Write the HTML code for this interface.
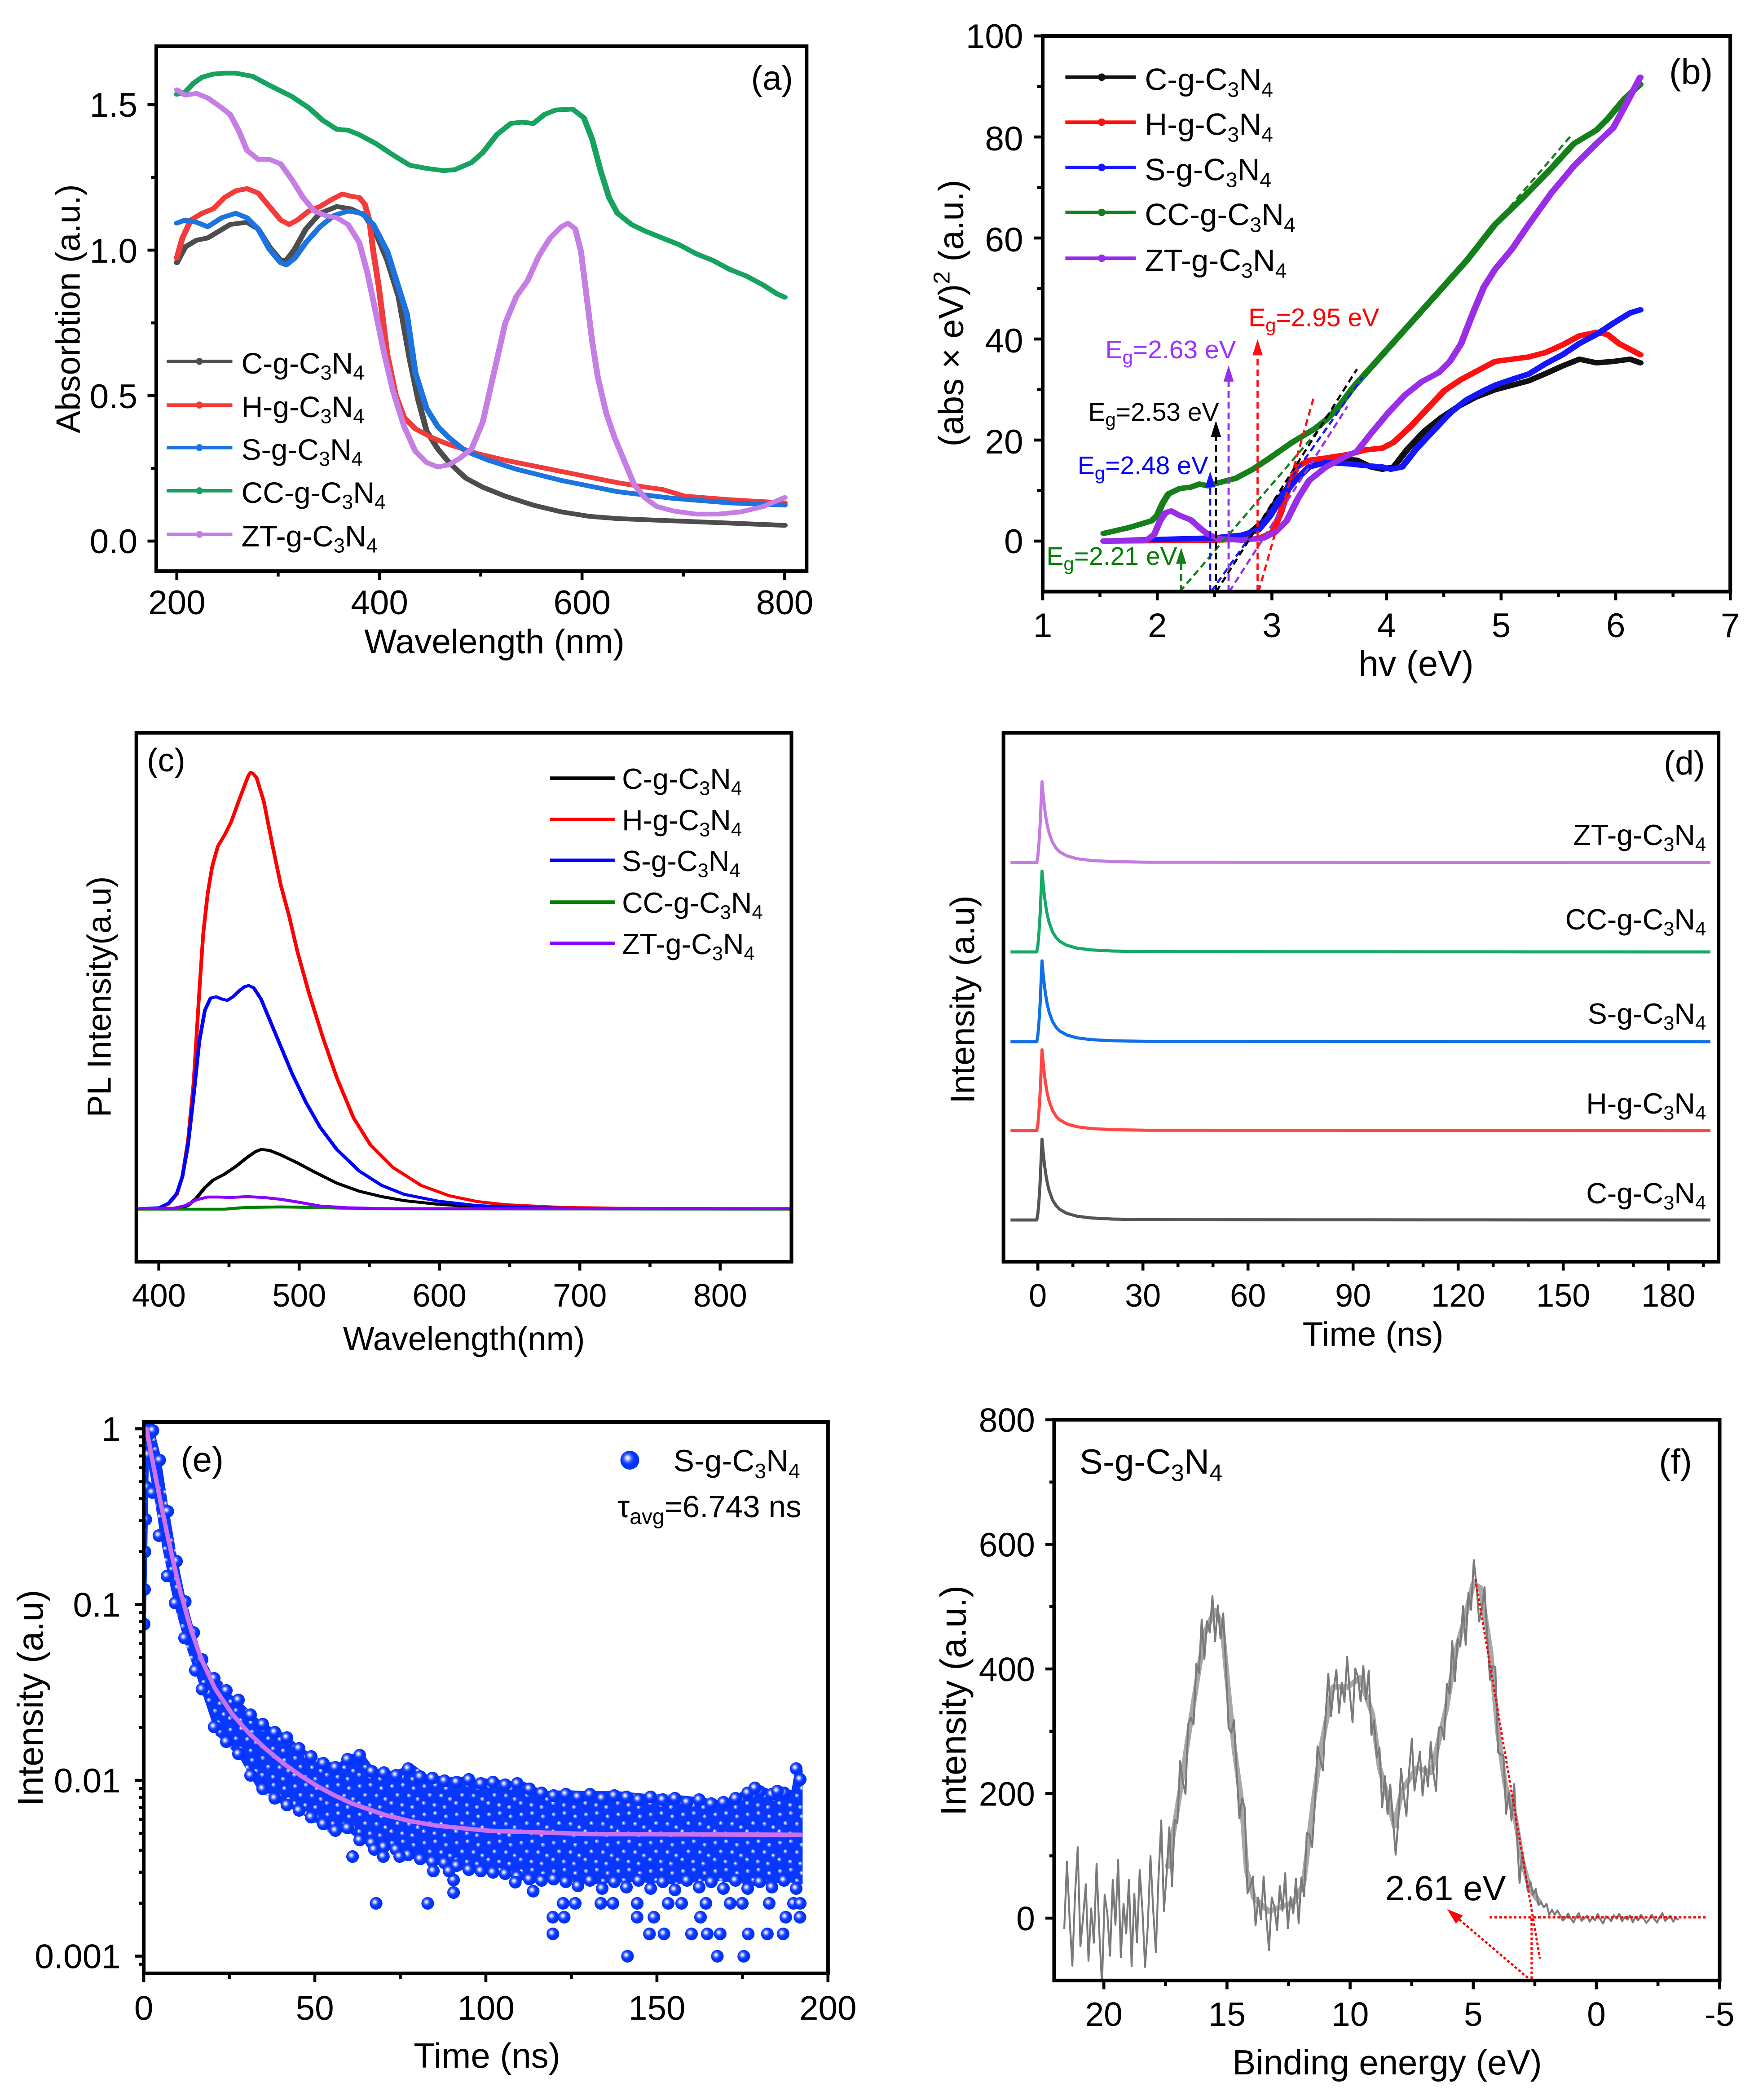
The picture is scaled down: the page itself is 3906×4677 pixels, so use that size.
<!DOCTYPE html>
<html><head><meta charset="utf-8">
<style>
html,body{margin:0;padding:0;background:#fff;}
svg{display:block;}
text{font-family:"Liberation Sans",Arial,sans-serif;fill:#000;}
</style></head><body>
<svg xmlns="http://www.w3.org/2000/svg" width="3906" height="4677" viewBox="0 0 1302 1559">
<defs>
 <radialGradient id="sph" cx="0.42" cy="0.42" r="0.62" fx="0.38" fy="0.38">
  <stop offset="0" stop-color="#ffffff"/>
  <stop offset="0.16" stop-color="#c8ceff"/>
  <stop offset="0.36" stop-color="#3a5cff"/>
  <stop offset="0.55" stop-color="#0536ff"/>
  <stop offset="1" stop-color="#0030f5"/>
 </radialGradient>
 <pattern id="bp" patternUnits="userSpaceOnUse" width="24" height="21">
  <rect width="24" height="21" fill="#0838ff"/>
  <g fill="#7084ff">
   <circle cx="3" cy="3" r="1.5"/><circle cx="11" cy="2" r="1.5"/><circle cx="19" cy="4.5" r="1.5"/>
   <circle cx="7" cy="9.5" r="1.5"/><circle cx="15.5" cy="10" r="1.5"/><circle cx="22" cy="12.5" r="1.5"/>
   <circle cx="2.5" cy="15.5" r="1.5"/><circle cx="10.5" cy="17" r="1.5"/><circle cx="18" cy="18.5" r="1.5"/>
  </g>
  <g fill="#e6eaff">
   <circle cx="2.8" cy="2.8" r="0.7"/><circle cx="10.8" cy="1.8" r="0.7"/><circle cx="18.8" cy="4.3" r="0.7"/>
   <circle cx="6.8" cy="9.3" r="0.7"/><circle cx="15.3" cy="9.8" r="0.7"/><circle cx="21.8" cy="12.3" r="0.7"/>
   <circle cx="2.3" cy="15.3" r="0.7"/><circle cx="10.3" cy="16.8" r="0.7"/><circle cx="17.8" cy="18.3" r="0.7"/>
  </g>
 </pattern>
 <clipPath id="cla"><rect x="116" y="34.3" width="482.75" height="389.7"/></clipPath>
 <clipPath id="clb"><rect x="774" y="26.7" width="510.4" height="412.5"/></clipPath>
 <clipPath id="clc"><rect x="101.25" y="544" width="486.25" height="392.7"/></clipPath>
 <clipPath id="cld"><rect x="744.9" y="544" width="530.8" height="392.7"/></clipPath>
 <clipPath id="cle"><rect x="106.7" y="1055.7" width="507.9" height="409.3"/></clipPath>
 <clipPath id="clf"><rect x="782.5" y="1054" width="494" height="416.3"/></clipPath>
</defs>
<rect x="0" y="0" width="1302" height="1559" fill="#fff"/>

<!-- ===== data (a) ===== -->
<g clip-path="url(#cla)">
<g transform="matrix(0.416667 0 0 0.333333 0 0)" fill="none" stroke-width="10.5" stroke-linejoin="round" stroke-linecap="round">
<path stroke="#4d4d4d" d="M315 585L330 550L350 535L370 530L390 515L410 500L440 495L460 510L480 550L500 580L510 580L525 555L545 510L570 475L600 460L625 465L650 480L670 520L690 580L710 660L730 800L745 890L760 960L780 1000L800 1030L830 1065L860 1085L900 1105L950 1125L1000 1140L1050 1150L1100 1155L1200 1160L1300 1165L1398 1170"/>
<path stroke="#f23c3c" d="M315 575L325 530L340 490L360 475L380 465L400 440L420 425L440 420L460 430L480 460L500 490L515 500L530 490L550 470L570 460L590 445L610 432L625 437L640 440L650 455L658 490L665 560L675 640L690 790L705 880L720 930L740 955L770 975L800 990L850 1010L900 1025L1000 1050L1100 1075L1150 1085L1180 1090L1220 1105L1300 1113L1398 1120"/>
<path stroke="#1d74e0" d="M315 497L330 490L350 495L370 505L395 485L420 475L440 485L460 510L480 555L500 585L510 590L525 575L545 540L570 505L595 480L620 470L645 475L665 500L690 560L710 640L725 700L740 830L760 910L780 950L800 975L830 1005L870 1025L920 1045L1000 1070L1100 1095L1200 1110L1300 1120L1398 1125"/>
<path stroke="#17a260" d="M315 210L330 205L345 185L360 172L380 165L400 163L420 163L450 170L480 190L520 215L550 240L575 268L600 288L620 290L640 300L670 320L700 345L730 368L760 375L790 380L810 378L840 362L860 340L885 300L910 275L930 272L950 275L970 255L990 245L1020 243L1040 262L1055 310L1070 380L1085 440L1100 475L1125 500L1150 515L1180 530L1210 545L1240 565L1270 580L1300 600L1330 615L1360 635L1385 655L1398 662"/>
<path stroke="#c57ee3" d="M315 200L330 212L350 208L370 218L395 240L410 255L425 290L440 335L460 355L480 355L500 365L520 400L540 440L560 470L580 480L600 485L620 500L640 540L655 610L670 700L685 790L700 870L720 950L740 1005L760 1030L780 1040L800 1035L820 1020L840 1000L860 940L880 830L900 720L920 660L940 625L960 570L980 530L1000 505L1012 497L1025 510L1035 560L1045 660L1055 760L1065 840L1080 920L1095 975L1110 1020L1130 1080L1150 1110L1170 1128L1200 1138L1240 1145L1280 1145L1320 1140L1360 1128L1398 1108"/>
</g></g>

<!-- ===== data (b) ===== -->
<g clip-path="url(#clb)">
<g transform="matrix(0.41793 0 0 0.333333 650 0)" fill="none" stroke-width="12" stroke-linejoin="round" stroke-linecap="round">
<path stroke="#111111" d="M405 1205L600 1200L660 1192L690 1160L710 1120L740 1075L770 1040L800 1028L830 1022L855 1025L880 1040L900 1045L920 1040L945 1000L975 960L1005 930L1035 905L1065 885L1100 868L1130 858L1160 848L1190 832L1220 815L1250 800L1280 808L1310 805L1340 800L1358 808"/>
<path stroke="#ff1010" d="M405 1205L600 1203L680 1200L705 1185L720 1140L735 1080L748 1040L770 1025L800 1020L840 1012L870 1002L900 998L920 985L950 950L980 910L1010 870L1040 845L1070 825L1100 805L1130 800L1160 795L1190 785L1220 768L1250 748L1280 740L1300 745L1320 765L1340 778L1358 790"/>
<path stroke="#1515ff" d="M405 1205L600 1198L650 1192L680 1180L700 1150L720 1110L745 1070L770 1040L800 1030L840 1033L870 1037L900 1040L915 1045L935 1040L960 1000L990 960L1020 920L1050 890L1080 870L1100 858L1130 845L1160 833L1190 810L1220 790L1250 765L1280 745L1310 720L1340 697L1358 690"/>
<path stroke="#15801a" d="M405 1188L450 1175L490 1160L500 1148L510 1120L520 1100L540 1088L560 1085L575 1078L590 1082L610 1075L640 1065L670 1045L700 1020L740 985L780 955L800 935L820 910L850 860L900 790L950 720L1000 650L1050 580L1100 500L1150 440L1200 375L1240 320L1280 290L1300 265L1330 220L1358 188"/>
<path stroke="#9a2ee8" d="M405 1205L480 1204L495 1190L505 1160L515 1142L525 1138L540 1148L560 1158L575 1175L590 1190L610 1200L650 1203L690 1198L710 1185L730 1160L750 1110L770 1070L800 1040L830 1020L855 1005L880 965L910 920L940 880L970 850L1000 830L1020 805L1040 765L1060 700L1080 640L1100 600L1130 555L1160 500L1200 430L1240 370L1280 320L1310 285L1340 215L1358 172"/>
</g>
<g fill="none" stroke-width="1.6" stroke-dasharray="5 3">
 <path stroke="#15801a" d="M875.7 439.3L1167.4 99.3"/>
 <path stroke="#1515ff" d="M899 439.3L1011.5 280"/>
 <path stroke="#000" d="M902.8 439.3L1007.3 274"/>
 <path stroke="#9a2ee8" d="M912.5 439.3L1000.2 301.7"/>
 <path stroke="#ff1010" d="M934.2 439.3L975.2 295"/>
 <path stroke="#15801a" d="M876.8 439.3L876.8 417.6"/>
 <path stroke="#1515ff" d="M898.3 439.3L898.3 360.8"/>
 <path stroke="#000" d="M902.6 439.3L902.6 323.3"/>
 <path stroke="#9a2ee8" d="M912 439.3L912 282.3"/>
 <path stroke="#ff1010" d="M933.5 439.3L933.5 262.8"/>
</g>
<path fill="#15801a" d="M876.8 406.6L873 418.6L880.6 418.6Z"/>
<path fill="#1515ff" d="M898.3 349.8L894.5 361.8L902.1 361.8Z"/>
<path fill="#000" d="M902.6 312.3L898.8 324.3L906.4 324.3Z"/>
<path fill="#9a2ee8" d="M912 271.3L908.2 283.3L915.8 283.3Z"/>
<path fill="#ff1010" d="M933.5 251.8L929.7 263.8L937.3 263.8Z"/>
</g>

<!-- ===== data (c) ===== -->
<g clip-path="url(#clc)">
<g transform="matrix(0.416667 0 0 0.333333 0 520)" fill="none" stroke-width="6.6" stroke-linejoin="round" stroke-linecap="round">
<path stroke="#000" d="M243 1132L320 1131L335 1125L350 1108L365 1085L380 1068L400 1055L420 1038L440 1018L455 1005L465 1000L480 1002L500 1012L530 1030L560 1050L600 1075L640 1093L680 1105L720 1114L780 1122L850 1128L950 1131L1410 1132"/>
<path stroke="#ff0000" d="M243 1132L283 1131L300 1122L315 1100L325 1060L335 980L345 850L355 650L362 520L370 430L378 370L388 325L400 300L412 270L425 225L437 185L443 166L447 160L451 163L457 172L470 225L485 320L500 410L515 480L530 560L550 650L575 750L600 840L630 930L660 990L700 1040L750 1080L800 1103L850 1116L900 1123L1000 1129L1100 1131L1410 1132"/>
<path stroke="#0000ff" d="M243 1132L283 1130L300 1120L315 1098L325 1060L335 990L345 880L355 760L365 690L375 663L385 660L395 665L405 668L415 660L425 648L435 638L443 635L452 640L465 665L480 710L500 770L520 830L545 895L570 950L600 1000L640 1048L680 1080L720 1100L780 1115L850 1125L950 1130L1100 1132L1410 1132"/>
<path stroke="#008000" d="M243 1133L400 1133L440 1129L500 1128L560 1129L650 1132L1410 1133"/>
<path stroke="#8a00ff" d="M243 1132L310 1131L330 1125L350 1112L370 1106L390 1106L410 1107L440 1105L470 1107L500 1111L530 1117L570 1126L620 1130L700 1132L1410 1132"/>
</g></g>

<!-- ===== data (d) ===== -->
<g clip-path="url(#cld)" fill="none" stroke-width="2.3" stroke-linejoin="round">
<path stroke="#c47be0" transform="translate(0,640.3)" d="M750.1 0L769.6 0L770.4 -4.6L771.2 -13.9L772 -26.5L772.7 -42L773.5 -60L774.3 -50.7L775.1 -43.1L776.1 -35.1L777.4 -27.6L778.7 -22.1L781.3 -14.9L783.9 -10.7L786.5 -8L791.7 -5L799.5 -2.8L809.9 -1.5L825.5 -0.7L851.5 -0.2L1269.6 0"/>
<path stroke="#16a866" transform="translate(0,706.7)" d="M750.1 0L769.6 0L770.4 -4.6L771.2 -13.9L772 -26.5L772.7 -42L773.5 -60L774.3 -50.7L775.1 -43.1L776.1 -35.1L777.4 -27.6L778.7 -22.1L781.3 -14.9L783.9 -10.7L786.5 -8L791.7 -5L799.5 -2.8L809.9 -1.5L825.5 -0.7L851.5 -0.2L1269.6 0"/>
<path stroke="#0f6fe6" transform="translate(0,773.3)" d="M750.1 0L769.6 0L770.4 -4.6L771.2 -13.9L772 -26.5L772.7 -42L773.5 -60L774.3 -50.7L775.1 -43.1L776.1 -35.1L777.4 -27.6L778.7 -22.1L781.3 -14.9L783.9 -10.7L786.5 -8L791.7 -5L799.5 -2.8L809.9 -1.5L825.5 -0.7L851.5 -0.2L1269.6 0"/>
<path stroke="#ff4646" transform="translate(0,839.3)" d="M750.1 0L769.6 0L770.4 -4.6L771.2 -13.9L772 -26.5L772.7 -42L773.5 -60L774.3 -50.7L775.1 -43.1L776.1 -35.1L777.4 -27.6L778.7 -22.1L781.3 -14.9L783.9 -10.7L786.5 -8L791.7 -5L799.5 -2.8L809.9 -1.5L825.5 -0.7L851.5 -0.2L1269.6 0"/>
<path stroke="#555555" transform="translate(0,905.7)" d="M750.1 0L769.6 0L770.4 -4.6L771.2 -13.9L772 -26.5L772.7 -42L773.5 -60L774.3 -50.7L775.1 -43.1L776.1 -35.1L777.4 -27.6L778.7 -22.1L781.3 -14.9L783.9 -10.7L786.5 -8L791.7 -5L799.5 -2.8L809.9 -1.5L825.5 -0.7L851.5 -0.2L1269.6 0"/>
</g>

<!-- ===== data (e) ===== -->
<g clip-path="url(#cle)">
<path fill="url(#bp)" d="M106.3 1055.7L109.2 1055L113.3 1057.3L118.8 1079L125 1119L131.3 1155.7L137.5 1185.7L143.8 1209L150 1229L158.3 1244L164.6 1248.3L170.8 1257.3L179.2 1264L187.5 1272.3L195.8 1279.7L208.3 1285L220.8 1295L233.3 1304L250 1309.7L260.4 1302.3L268.8 1300.7L277.1 1312.3L291.7 1315L306.3 1309.7L316.7 1317.3L333.3 1319L354.2 1319.7L375 1321.7L389.6 1323L404.2 1329.7L420.8 1329L437.5 1329.7L458.3 1329.7L479.2 1331.7L500 1332.3L516.7 1334L537.5 1336.7L558.3 1326.3L577.1 1328.3L587.5 1329L590.8 1310.7L595.8 1314L595.8 1399L583.3 1397L560 1400L530 1396L500 1399L470 1397L437.5 1399L416.7 1396L395.8 1397.7L375 1392.3L354.2 1390.7L333.3 1385.7L312.5 1382.3L291.7 1374L270.8 1369L258.3 1359.7L245.8 1361.7L233.3 1352.3L220.8 1345L208.3 1339L191.7 1329L179.2 1307.3L166.7 1293L160.4 1288.3L154.2 1269L145.8 1244L137.5 1220.7L129.2 1190.7L120.8 1150.7L114.6 1112.3L110.4 1089L108.3 1209L106.3 1205.7Z"/>
<g fill="url(#sph)">
<circle cx="107" cy="1205.7" r="4.7"/><circle cx="107.3" cy="1180" r="4.7"/><circle cx="107.6" cy="1152" r="4.7"/><circle cx="108.2" cy="1128" r="4.7"/><circle cx="108.8" cy="1104" r="4.7"/><circle cx="109.5" cy="1080" r="4.7"/><circle cx="110.3" cy="1065" r="4.7"/>
<circle cx="113.5" cy="1062" r="4.7"/><circle cx="118.5" cy="1084" r="4.7"/><circle cx="124.5" cy="1122" r="4.7"/><circle cx="131" cy="1159" r="4.7"/><circle cx="137.5" cy="1189" r="4.7"/><circle cx="143.8" cy="1212" r="4.7"/><circle cx="150" cy="1232" r="4.7"/><circle cx="159" cy="1246" r="4.7"/><circle cx="168" cy="1255" r="4.7"/><circle cx="177" cy="1262" r="4.7"/><circle cx="186" cy="1273" r="4.7"/><circle cx="195" cy="1280" r="4.7"/><circle cx="204" cy="1286" r="4.7"/><circle cx="213" cy="1290" r="4.7"/><circle cx="222" cy="1298" r="4.7"/><circle cx="231" cy="1304" r="4.7"/><circle cx="240" cy="1309" r="4.7"/><circle cx="249" cy="1312" r="4.7"/><circle cx="258" cy="1306" r="4.7"/><circle cx="267" cy="1303" r="4.7"/><circle cx="276" cy="1315" r="4.7"/><circle cx="285" cy="1316" r="4.7"/><circle cx="294" cy="1318" r="4.7"/><circle cx="303" cy="1313" r="4.7"/><circle cx="312" cy="1319" r="4.7"/><circle cx="321" cy="1320" r="4.7"/><circle cx="330" cy="1322" r="4.7"/><circle cx="339" cy="1323" r="4.7"/><circle cx="348" cy="1321" r="4.7"/><circle cx="357" cy="1324" r="4.7"/><circle cx="366" cy="1323" r="4.7"/><circle cx="375" cy="1325" r="4.7"/><circle cx="384" cy="1324" r="4.7"/><circle cx="393" cy="1328" r="4.7"/><circle cx="402" cy="1331" r="4.7"/><circle cx="411" cy="1333" r="4.7"/><circle cx="420" cy="1332" r="4.7"/><circle cx="429" cy="1334" r="4.7"/><circle cx="438" cy="1332" r="4.7"/><circle cx="447" cy="1335" r="4.7"/><circle cx="456" cy="1333" r="4.7"/><circle cx="465" cy="1334" r="4.7"/><circle cx="474" cy="1336" r="4.7"/><circle cx="483" cy="1334" r="4.7"/><circle cx="492" cy="1336" r="4.7"/><circle cx="501" cy="1335" r="4.7"/><circle cx="510" cy="1338" r="4.7"/><circle cx="519" cy="1336" r="4.7"/><circle cx="528" cy="1339" r="4.7"/><circle cx="537" cy="1338" r="4.7"/><circle cx="546" cy="1335" r="4.7"/><circle cx="555" cy="1331" r="4.7"/><circle cx="564" cy="1330" r="4.7"/><circle cx="573" cy="1332" r="4.7"/><circle cx="582" cy="1331" r="4.7"/><circle cx="591" cy="1313" r="4.7"/><circle cx="594" cy="1321" r="4.7"/>
<circle cx="113" cy="1108" r="4.7"/><circle cx="118" cy="1140" r="4.7"/><circle cx="124" cy="1170" r="4.7"/><circle cx="130" cy="1190" r="4.7"/><circle cx="137" cy="1216" r="4.7"/><circle cx="145" cy="1240" r="4.7"/><circle cx="150" cy="1254" r="4.7"/><circle cx="159" cy="1282" r="4.7"/><circle cx="168" cy="1293" r="4.7"/><circle cx="177" cy="1302" r="4.7"/><circle cx="186" cy="1318" r="4.7"/><circle cx="195" cy="1328" r="4.7"/><circle cx="204" cy="1335" r="4.7"/><circle cx="213" cy="1340" r="4.7"/><circle cx="222" cy="1344" r="4.7"/><circle cx="231" cy="1349" r="4.7"/><circle cx="240" cy="1354" r="4.7"/><circle cx="249" cy="1359" r="4.7"/><circle cx="258" cy="1357" r="4.7"/><circle cx="267" cy="1366" r="4.7"/><circle cx="276" cy="1368" r="4.7"/><circle cx="285" cy="1371" r="4.7"/><circle cx="294" cy="1373" r="4.7"/><circle cx="303" cy="1377" r="4.7"/><circle cx="312" cy="1380" r="4.7"/><circle cx="321" cy="1382" r="4.7"/><circle cx="330" cy="1383" r="4.7"/><circle cx="339" cy="1385" r="4.7"/><circle cx="348" cy="1388" r="4.7"/><circle cx="357" cy="1389" r="4.7"/><circle cx="366" cy="1390" r="4.7"/><circle cx="375" cy="1391" r="4.7"/><circle cx="384" cy="1393" r="4.7"/><circle cx="393" cy="1395" r="4.7"/><circle cx="402" cy="1396" r="4.7"/><circle cx="411" cy="1395" r="4.7"/><circle cx="420" cy="1397" r="4.7"/><circle cx="429" cy="1400" r="4.7"/><circle cx="438" cy="1396" r="4.7"/><circle cx="447" cy="1402" r="4.7"/><circle cx="456" cy="1397" r="4.7"/><circle cx="465" cy="1401" r="4.7"/><circle cx="474" cy="1396" r="4.7"/><circle cx="483" cy="1402" r="4.7"/><circle cx="492" cy="1397" r="4.7"/><circle cx="501" cy="1403" r="4.7"/><circle cx="510" cy="1396" r="4.7"/><circle cx="519" cy="1401" r="4.7"/><circle cx="528" cy="1397" r="4.7"/><circle cx="537" cy="1402" r="4.7"/><circle cx="546" cy="1396" r="4.7"/><circle cx="555" cy="1402" r="4.7"/><circle cx="564" cy="1397" r="4.7"/><circle cx="573" cy="1401" r="4.7"/><circle cx="582" cy="1396" r="4.7"/><circle cx="591" cy="1402" r="4.7"/>
<circle cx="418" cy="1413" r="4.7"/><circle cx="427" cy="1413" r="4.7"/><circle cx="446" cy="1413" r="4.7"/><circle cx="455" cy="1413" r="4.7"/><circle cx="473" cy="1413" r="4.7"/><circle cx="496" cy="1413" r="4.7"/><circle cx="506" cy="1413" r="4.7"/><circle cx="524" cy="1413" r="4.7"/><circle cx="542" cy="1413" r="4.7"/><circle cx="551" cy="1413" r="4.7"/><circle cx="571" cy="1413" r="4.7"/><circle cx="589" cy="1413" r="4.7"/><circle cx="594" cy="1413" r="4.7"/>
<circle cx="261.7" cy="1378.3" r="4.7"/><circle cx="277.9" cy="1373" r="4.7"/><circle cx="284.6" cy="1378.3" r="4.7"/><circle cx="296.7" cy="1378.3" r="4.7"/><circle cx="279.2" cy="1413" r="4.7"/><circle cx="317.5" cy="1413" r="4.7"/><circle cx="321.7" cy="1389" r="4.7"/><circle cx="336.7" cy="1395.7" r="4.7"/><circle cx="336.7" cy="1405" r="4.7"/><circle cx="333.3" cy="1389" r="4.7"/><circle cx="382.5" cy="1397.3" r="4.7"/><circle cx="395.8" cy="1404" r="4.7"/><circle cx="410.4" cy="1423.3" r="4.7"/><circle cx="410.4" cy="1435.7" r="4.7"/><circle cx="418.8" cy="1423.3" r="4.7"/><circle cx="465.8" cy="1452.3" r="4.7"/><circle cx="472.9" cy="1423.3" r="4.7"/><circle cx="482.1" cy="1435.7" r="4.7"/><circle cx="485.4" cy="1423.3" r="4.7"/><circle cx="492.9" cy="1435.7" r="4.7"/><circle cx="513.3" cy="1435.7" r="4.7"/><circle cx="520" cy="1423.3" r="4.7"/><circle cx="525" cy="1435.7" r="4.7"/><circle cx="532.5" cy="1452.3" r="4.7"/><circle cx="534.6" cy="1435.7" r="4.7"/><circle cx="552.1" cy="1452.3" r="4.7"/><circle cx="555.4" cy="1435.7" r="4.7"/><circle cx="569.6" cy="1435.7" r="4.7"/><circle cx="581.3" cy="1435.7" r="4.7"/><circle cx="583.3" cy="1423.3" r="4.7"/><circle cx="593.8" cy="1423.3" r="4.7"/><circle cx="560.4" cy="1327.3" r="4.7"/><circle cx="577.1" cy="1329.7" r="4.7"/>
</g>
<path fill="none" stroke="#cc72f0" stroke-width="3.3" stroke-linejoin="round" stroke-linecap="round" d="M108.7 1060.7L111.3 1074.3L113.8 1087.6L116.4 1100.8L118.9 1113.7L124 1138.4L129.1 1161.5L134.1 1182.6L141.8 1209.9L149.4 1231.6L159.5 1253.3L172.2 1272.3L184.9 1286.8L197.6 1298.6L210.3 1309.1L223 1318.1L235.7 1326.1L248.4 1332.9L261.1 1338.8L286.5 1347.6L304.3 1351.9L324.6 1355.4L362.7 1359.1L438.9 1361.6L594.3 1362.1"/>
</g>

<!-- ===== data (f) ===== -->
<g clip-path="url(#clf)" fill="none" stroke-linejoin="round">
<path stroke="#a8a8a8" stroke-width="4" stroke-linecap="round" d="M866.9 1385.6L876.1 1329.2L881.6 1292.2L888.9 1245.5L894.3 1212.2L901.7 1195.5L907.1 1205.7L910.8 1245.5L916.3 1299.1L921.8 1338.9L925.4 1388.9L930.9 1409.2L941.9 1418.9L960.2 1412.4L967.5 1399L974.8 1338.9L980.3 1299.1L989.4 1252.4L1000.4 1252.4L1009.5 1245.5L1018.7 1272.3L1024.1 1312.5L1029.6 1332.4L1035.1 1355.6L1040.6 1329.2L1051.6 1312.5L1062.5 1315.8L1068 1292.2L1073.5 1269.1L1080.8 1225.6L1086.3 1205.7L1093.6 1175.6L1099.1 1178.9L1106.4 1225.6L1111.9 1285.7L1117.4 1325.5L1124.7 1349.1L1130.2 1382.4L1135.6 1402.3L1143 1412.4"/>
<path stroke="#7a7a7a" stroke-width="1.4" d="M790 1432L792 1382.1L794 1424.9L796 1459.3L798 1406.9L800 1371.3L802 1444.9L804 1423.3L806 1398.8L808 1455.6L810 1416.8L812 1442.2L814 1383.6L816 1434.2L818 1473.6L820 1406.7L822 1420.9L824 1451.9L826 1395.7L828 1428.9L830 1380.8L832 1453.1L834 1413.5L836 1435.4L838 1395.7L840 1459.7L842 1406L844 1442L846 1388.3L848 1417.6L850 1460.3L852 1430.2L854 1377.8L856 1417.7L858 1449.2L860 1393.2L862 1351.4L864 1418.7L866 1390.9L868 1356.5L870 1400.2L872 1351.1L874 1353.3L876 1307.4L878 1322.8L880 1331.8L882 1280L884 1275.2L886 1280.1L888 1235.3L890 1241.9L892 1202.4L894 1231.6L896 1203.6L898 1211.9L900 1185L902 1218.5L904 1191.8L906 1216.4L908 1197.8L910 1236.9L912 1282.8L914 1286.3L916 1277L918 1316.2L920 1349.9L922 1335.3L924 1342.2L926 1405.5L928 1400.1L930 1393.1L932 1429.4L934 1408.7L936 1424.9L938 1393.1L940 1423.6L942 1447.7L944 1408.6L946 1415.9L948 1432.8L950 1400.1L952 1418.5L954 1390.6L956 1431.5L958 1408.4L960 1420.5L962 1394.7L964 1427.8L966 1393.8L968 1407.7L970 1360.8L972 1362L974 1371.1L976 1339.8L978 1296.5L980 1306.1L982 1314.4L984 1273.8L986 1242.7L988 1274.1L990 1254L992 1239.6L994 1271.6L996 1249.2L998 1263.6L1000 1230L1002 1257.6L1004 1278.5L1006 1238.6L1008 1245L1010 1263L1012 1236.8L1014 1261.8L1016 1240.4L1018 1287.9L1020 1277.2L1022 1304.9L1024 1297.4L1026 1341.8L1028 1318.6L1030 1346.9L1032 1324.9L1034 1350.9L1036 1376.9L1038 1351.3L1040 1312.9L1042 1331.9L1044 1348L1046 1314.6L1048 1290.8L1050 1329.3L1052 1314.2L1054 1300.4L1056 1333L1058 1311.2L1060 1326.2L1062 1293.2L1064 1315.8L1066 1329.6L1068 1282.6L1070 1282.2L1072 1291.4L1074 1250.1L1076 1257.4L1078 1218.3L1080 1248L1082 1216.5L1084 1222.1L1086 1192.4L1088 1221.1L1090 1182.5L1092 1195L1094 1158.2L1096 1177L1098 1203.8L1100 1194.3L1102 1178.3L1104 1215L1106 1247L1108 1236.7L1110 1237.8L1112 1300.8L1114 1302.5L1116 1302.6L1118 1346.6L1120 1330.7L1122 1351.6L1124 1324.4L1126 1363.4L1128 1397.9L1130 1375.2L1132 1388.2L1134 1403.4L1136 1396.8L1138 1406.6L1140 1402.3L1142 1414.3L1144 1412.2L1146 1416.1L1148 1413.3L1150 1421.6L1152 1417.7L1154 1421.6L1156 1418.3L1158 1421.6L1160 1425.8L1162 1424L1164 1420.5L1166 1424.2L1168 1427.2L1170 1423.1L1172 1420.3L1174 1426L1176 1424.2L1178 1422.2L1180 1426.6L1182 1423.6L1184 1425.5L1186 1420.9L1188 1424.9L1190 1428L1192 1422.7L1194 1423.8L1196 1426.2L1198 1421.8L1200 1424.4L1202 1420.7L1204 1426.4L1206 1423.3L1208 1425.1L1210 1422L1212 1427.1L1214 1422.9L1216 1425.8L1218 1421.6L1220 1424L1222 1427.5L1224 1425.3L1226 1421.4L1228 1424.7L1230 1427.3L1232 1423.1L1234 1420.3L1236 1426L1238 1424.2L1240 1422.2L1242 1426.6L1244 1423.6L1246 1425.5"/>
<g stroke="#ff0000" stroke-width="1.6" stroke-dasharray="2 1.6">
 <path d="M1095.2 1172.4L1143.1 1454.1"/>
 <path d="M1105.7 1423.4L1266.5 1423.4"/>
 <path d="M1136.9 1424L1136.9 1470.7"/>
 <path d="M1136.9 1470.7L1083.3 1425.1"/>
</g>
<path fill="#ff0000" d="M1074.2 1417.3L1085.9 1422.1L1080.7 1428.1Z"/>
</g>

<!-- frames -->
<g fill="none" stroke="#000" stroke-width="2.7">
 <rect x="116" y="34.3" width="482.75" height="389.7"/>
 <rect x="774" y="26.7" width="510.4" height="412.5"/>
 <rect x="101.25" y="544" width="486.25" height="392.7"/>
 <rect x="744.9" y="544" width="530.8" height="392.7"/>
 <rect x="106.7" y="1055.7" width="507.9" height="409.3"/>
 <rect x="782.5" y="1054" width="494" height="416.3"/>
</g>
<!-- ticks -->
<g stroke="#000" stroke-width="2.2" fill="none">
<path d="M131.25 424V430.5M281.65 424V430.5M432.05 424V430.5M582.45 424V430.5M206.45 424V428M356.85 424V428M507.25 424V428M116 401.7H109.5M116 293.7H109.5M116 185.7H109.5M116 77.7H109.5M116 347.7H112M116 239.7H112M116 131.7H112"/>
<path d="M774 439.2V445.7M859.07 439.2V445.7M944.14 439.2V445.7M1029.21 439.2V445.7M1114.28 439.2V445.7M1199.35 439.2V445.7M1284.42 439.2V445.7M816.5 439.2V443.2M901.6 439.2V443.2M986.7 439.2V443.2M1071.7 439.2V443.2M1156.8 439.2V443.2M1241.9 439.2V443.2M774 401.7H767.5M774 326.7H767.5M774 251.7H767.5M774 176.7H767.5M774 101.7H767.5M774 26.7H767.5M774 364.2H770M774 289.2H770M774 214.2H770M774 139.2H770M774 64.2H770"/>
<path d="M117.9 936.7V943.2M222.07 936.7V943.2M326.24 936.7V943.2M430.41 936.7V943.2M534.58 936.7V943.2M169.99 936.7V940.7M274.16 936.7V940.7M378.33 936.7V940.7M482.5 936.7V940.7"/>
<path d="M770.4 936.7V943.2M848.4 936.7V943.2M926.4 936.7V943.2M1004.4 936.7V943.2M1082.4 936.7V943.2M1160.4 936.7V943.2M1238.4 936.7V943.2M796.4 936.7V940.7M822.4 936.7V940.7M874.4 936.7V940.7M900.4 936.7V940.7M952.4 936.7V940.7M978.4 936.7V940.7M1030.4 936.7V940.7M1056.4 936.7V940.7M1108.4 936.7V940.7M1134.4 936.7V940.7M1186.4 936.7V940.7M1212.4 936.7V940.7M1264.4 936.7V940.7"/>
<path d="M106.7 1465V1471.5M233.68 1465V1471.5M360.65 1465V1471.5M487.63 1465V1471.5M614.6 1465V1471.5M170.19 1465V1469M297.16 1465V1469M424.14 1465V1469M551.11 1465V1469M106.7 1060.7H100.2M106.7 1191.2H100.2M106.7 1321.7H100.2M106.7 1452.2H100.2M106.7 1151.9H103M106.7 1128.9H103M106.7 1112.6H103M106.7 1100H103M106.7 1089.6H103M106.7 1080.9H103M106.7 1073.3H103M106.7 1066.7H103M106.7 1282.4H103M106.7 1259.4H103M106.7 1243.1H103M106.7 1230.5H103M106.7 1220.1H103M106.7 1211.4H103M106.7 1203.8H103M106.7 1197.2H103M106.7 1412.9H103M106.7 1389.9H103M106.7 1373.6H103M106.7 1361H103M106.7 1350.6H103M106.7 1341.9H103M106.7 1334.3H103M106.7 1327.7H103M106.7 1458.2H103"/>
<path d="M819.4 1470.3V1476.8M910.8 1470.3V1476.8M1002.2 1470.3V1476.8M1093.6 1470.3V1476.8M1185 1470.3V1476.8M1276.4 1470.3V1476.8M865.1 1470.3V1474.3M956.5 1470.3V1474.3M1047.9 1470.3V1474.3M1139.3 1470.3V1474.3M1230.7 1470.3V1474.3M782.5 1424H776M782.5 1331.5H776M782.5 1239H776M782.5 1146.5H776M782.5 1054H776M782.5 1377.75H779M782.5 1285.25H779M782.5 1192.75H779M782.5 1100.25H779"/>
</g>

<!-- ===== Panel (a) text ===== -->
<g font-size="25.5" text-anchor="middle">
 <text x="131.3" y="456">200</text><text x="281.7" y="456">400</text><text x="432.1" y="456">600</text><text x="582.5" y="456">800</text>
</g>
<g font-size="25.5" text-anchor="end">
 <text x="102" y="86.7">1.5</text><text x="102" y="195">1.0</text><text x="102" y="303">0.5</text><text x="102" y="410.7">0.0</text>
</g>
<text x="367" y="485" font-size="25.5" text-anchor="middle">Wavelength (nm)</text>
<text transform="translate(59.2,229.2) rotate(-90)" font-size="25" text-anchor="middle">Absorbtion (a.u.)</text>
<text x="557.5" y="66.7" font-size="25.5">(a)</text>
<g stroke-width="2.6">
 <line x1="123.75" y1="268.3" x2="172.5" y2="268.3" stroke="#4d4d4d"/><circle cx="148" cy="268.3" r="2.6" fill="#4d4d4d"/>
 <line x1="123.75" y1="300.7" x2="172.5" y2="300.7" stroke="#f23c3c"/><circle cx="148" cy="300.7" r="2.6" fill="#f23c3c"/>
 <line x1="123.75" y1="332.3" x2="172.5" y2="332.3" stroke="#1d74e0"/><circle cx="148" cy="332.3" r="2.6" fill="#1d74e0"/>
 <line x1="123.75" y1="364.3" x2="172.5" y2="364.3" stroke="#17a260"/><circle cx="148" cy="364.3" r="2.6" fill="#17a260"/>
 <line x1="123.75" y1="396.7" x2="172.5" y2="396.7" stroke="#c57ee3"/><circle cx="148" cy="396.7" r="2.6" fill="#c57ee3"/>
</g>
<g font-size="22">
 <text x="179.2" y="277.3">C-g-C<tspan font-size="15" dy="4.5">3</tspan><tspan dy="-4.5">N</tspan><tspan font-size="15" dy="4.5">4</tspan></text>
 <text x="179.2" y="309.7">H-g-C<tspan font-size="15" dy="4.5">3</tspan><tspan dy="-4.5">N</tspan><tspan font-size="15" dy="4.5">4</tspan></text>
 <text x="179.2" y="341.3">S-g-C<tspan font-size="15" dy="4.5">3</tspan><tspan dy="-4.5">N</tspan><tspan font-size="15" dy="4.5">4</tspan></text>
 <text x="179.2" y="373.3">CC-g-C<tspan font-size="15" dy="4.5">3</tspan><tspan dy="-4.5">N</tspan><tspan font-size="15" dy="4.5">4</tspan></text>
 <text x="179.2" y="405.7">ZT-g-C<tspan font-size="15" dy="4.5">3</tspan><tspan dy="-4.5">N</tspan><tspan font-size="15" dy="4.5">4</tspan></text>
</g>

<!-- ===== Panel (b) text ===== -->
<g font-size="25.5" text-anchor="middle">
 <text x="774" y="473">1</text><text x="859.1" y="473">2</text><text x="944.1" y="473">3</text><text x="1029.2" y="473">4</text><text x="1114.3" y="473">5</text><text x="1199.4" y="473">6</text><text x="1284.4" y="473">7</text>
</g>
<g font-size="25.5" text-anchor="end">
 <text x="759.5" y="35.7">100</text><text x="759.5" y="111.7">80</text><text x="759.5" y="186.7">60</text><text x="759.5" y="261.7">40</text><text x="759.5" y="336.7">20</text><text x="759.5" y="410.7">0</text>
</g>
<text x="1051.2" y="501.7" font-size="26.5" text-anchor="middle">hv (eV)</text>
<text transform="translate(714.8,232.5) rotate(-90)" font-size="26" text-anchor="middle">(abs × eV)<tspan font-size="17" dy="-10">2</tspan><tspan dy="10"> (a.u.)</tspan></text>
<text x="1239" y="62.3" font-size="26.5">(b)</text>
<g stroke-width="2.6">
 <line x1="790.8" y1="57.3" x2="843.1" y2="57.3" stroke="#111"/><circle cx="817.8" cy="57.3" r="2.8" fill="#111"/>
 <line x1="790.8" y1="90.7" x2="843.1" y2="90.7" stroke="#ff1010"/><circle cx="817.8" cy="90.7" r="2.8" fill="#ff1010"/>
 <line x1="790.8" y1="124.3" x2="843.1" y2="124.3" stroke="#1515ff"/><circle cx="817.8" cy="124.3" r="2.8" fill="#1515ff"/>
 <line x1="790.8" y1="157.7" x2="843.1" y2="157.7" stroke="#15801a"/><circle cx="817.8" cy="157.7" r="2.8" fill="#15801a"/>
 <line x1="790.8" y1="191.7" x2="843.1" y2="191.7" stroke="#9a2ee8"/><circle cx="817.8" cy="191.7" r="2.8" fill="#9a2ee8"/>
</g>
<g font-size="23">
 <text x="849.8" y="66.8">C-g-C<tspan font-size="15.5" dy="5">3</tspan><tspan dy="-5">N</tspan><tspan font-size="15.5" dy="5">4</tspan></text>
 <text x="849.8" y="100.2">H-g-C<tspan font-size="15.5" dy="5">3</tspan><tspan dy="-5">N</tspan><tspan font-size="15.5" dy="5">4</tspan></text>
 <text x="849.8" y="133.8">S-g-C<tspan font-size="15.5" dy="5">3</tspan><tspan dy="-5">N</tspan><tspan font-size="15.5" dy="5">4</tspan></text>
 <text x="849.8" y="167.2">CC-g-C<tspan font-size="15.5" dy="5">3</tspan><tspan dy="-5">N</tspan><tspan font-size="15.5" dy="5">4</tspan></text>
 <text x="849.8" y="201.2">ZT-g-C<tspan font-size="15.5" dy="5">3</tspan><tspan dy="-5">N</tspan><tspan font-size="15.5" dy="5">4</tspan></text>
</g>
<g font-size="19">
 <text x="926.7" y="242.1" style="fill:#ff0000">E<tspan font-size="14" dy="4">g</tspan><tspan dy="-4">=2.95 eV</tspan></text>
 <text x="820.5" y="266" style="fill:#9b30ff">E<tspan font-size="14" dy="4">g</tspan><tspan dy="-4">=2.63 eV</tspan></text>
 <text x="807.8" y="312.4" style="fill:#000">E<tspan font-size="14" dy="4">g</tspan><tspan dy="-4">=2.53 eV</tspan></text>
 <text x="799.9" y="352" style="fill:#0000ff">E<tspan font-size="14" dy="4">g</tspan><tspan dy="-4">=2.48 eV</tspan></text>
 <text x="776.8" y="419.3" style="fill:#008000">E<tspan font-size="14" dy="4">g</tspan><tspan dy="-4">=2.21 eV</tspan></text>
</g>

<!-- ===== Panel (c) text ===== -->
<g font-size="24" text-anchor="middle">
 <text x="117.9" y="970">400</text><text x="222.1" y="970">500</text><text x="326.2" y="970">600</text><text x="430.4" y="970">700</text><text x="534.6" y="970">800</text>
</g>
<text x="344.4" y="1002.3" font-size="24.6" text-anchor="middle">Wavelength(nm)</text>
<text transform="translate(82.1,740) rotate(-90)" font-size="24.7" text-anchor="middle">PL Intensity(a.u)</text>
<text x="109" y="572.7" font-size="24.5">(c)</text>
<g stroke-width="2.6">
 <line x1="408.3" y1="577.7" x2="456.3" y2="577.7" stroke="#000"/>
 <line x1="408.3" y1="608.3" x2="456.3" y2="608.3" stroke="#ff0000"/>
 <line x1="408.3" y1="638.7" x2="456.3" y2="638.7" stroke="#0000ff"/>
 <line x1="408.3" y1="669.7" x2="456.3" y2="669.7" stroke="#008000"/>
 <line x1="408.3" y1="700.3" x2="456.3" y2="700.3" stroke="#8a00ff"/>
</g>
<g font-size="21.5">
 <text x="461.7" y="585.7">C-g-C<tspan font-size="14.5" dy="4.5">3</tspan><tspan dy="-4.5">N</tspan><tspan font-size="14.5" dy="4.5">4</tspan></text>
 <text x="461.7" y="616.3">H-g-C<tspan font-size="14.5" dy="4.5">3</tspan><tspan dy="-4.5">N</tspan><tspan font-size="14.5" dy="4.5">4</tspan></text>
 <text x="461.7" y="646.7">S-g-C<tspan font-size="14.5" dy="4.5">3</tspan><tspan dy="-4.5">N</tspan><tspan font-size="14.5" dy="4.5">4</tspan></text>
 <text x="461.7" y="677.7">CC-g-C<tspan font-size="14.5" dy="4.5">3</tspan><tspan dy="-4.5">N</tspan><tspan font-size="14.5" dy="4.5">4</tspan></text>
 <text x="461.7" y="708.3">ZT-g-C<tspan font-size="14.5" dy="4.5">3</tspan><tspan dy="-4.5">N</tspan><tspan font-size="14.5" dy="4.5">4</tspan></text>
</g>

<!-- ===== Panel (d) text ===== -->
<g font-size="24" text-anchor="middle">
 <text x="770.4" y="970">0</text><text x="848.4" y="970">30</text><text x="926.4" y="970">60</text><text x="1004.4" y="970">90</text><text x="1082.4" y="970">120</text><text x="1160.4" y="970">150</text><text x="1238.4" y="970">180</text>
</g>
<text x="1019.2" y="999" font-size="25" text-anchor="middle">Time (ns)</text>
<text transform="translate(723.1,742) rotate(-90)" font-size="25.5" text-anchor="middle">Intensity (a.u)</text>
<text x="1265.6" y="575" font-size="25" text-anchor="end">(d)</text>
<g font-size="21.5" text-anchor="end">
 <text x="1266.4" y="627.3">ZT-g-C<tspan font-size="14.5" dy="4.5">3</tspan><tspan dy="-4.5">N</tspan><tspan font-size="14.5" dy="4.5">4</tspan></text>
 <text x="1266.4" y="690">CC-g-C<tspan font-size="14.5" dy="4.5">3</tspan><tspan dy="-4.5">N</tspan><tspan font-size="14.5" dy="4.5">4</tspan></text>
 <text x="1266.4" y="760">S-g-C<tspan font-size="14.5" dy="4.5">3</tspan><tspan dy="-4.5">N</tspan><tspan font-size="14.5" dy="4.5">4</tspan></text>
 <text x="1266.4" y="826.7">H-g-C<tspan font-size="14.5" dy="4.5">3</tspan><tspan dy="-4.5">N</tspan><tspan font-size="14.5" dy="4.5">4</tspan></text>
 <text x="1266.4" y="893.3">C-g-C<tspan font-size="14.5" dy="4.5">3</tspan><tspan dy="-4.5">N</tspan><tspan font-size="14.5" dy="4.5">4</tspan></text>
</g>

<!-- ===== Panel (e) text ===== -->
<g font-size="25.5" text-anchor="middle">
 <text x="106.7" y="1499.5">0</text><text x="233.7" y="1499.5">50</text><text x="360.7" y="1499.5">100</text><text x="487.6" y="1499.5">150</text><text x="614.6" y="1499.5">200</text>
</g>
<g font-size="25.5" text-anchor="end">
 <text x="89.6" y="1069.7">1</text><text x="89.6" y="1200.2">0.1</text><text x="89.6" y="1330.7">0.01</text><text x="89.6" y="1461.2">0.001</text>
</g>
<text x="361.5" y="1535" font-size="26" text-anchor="middle">Time (ns)</text>
<text transform="translate(31.7,1260.5) rotate(-90)" font-size="26.5" text-anchor="middle">Intensity (a.u)</text>
<text x="134.2" y="1092.3" font-size="26">(e)</text>
<circle cx="467.5" cy="1084" r="7" fill="url(#sph)"/>
<text x="500" y="1092.3" font-size="23">S-g-C<tspan font-size="15.5" dy="5">3</tspan><tspan dy="-5">N</tspan><tspan font-size="15.5" dy="5">4</tspan></text>
<text x="458.3" y="1126.3" font-size="23">τ<tspan font-size="16" dy="5">avg</tspan><tspan dy="-5">=6.743 ns</tspan></text>

<!-- ===== Panel (f) text ===== -->
<g font-size="25" text-anchor="middle">
 <text x="819.4" y="1504">20</text><text x="910.8" y="1504">15</text><text x="1002.2" y="1504">10</text><text x="1093.6" y="1504">5</text><text x="1185" y="1504">0</text><text x="1276.4" y="1504">-5</text>
</g>
<g font-size="25" text-anchor="end">
 <text x="768.3" y="1063">800</text><text x="768.3" y="1155.5">600</text><text x="768.3" y="1248">400</text><text x="768.3" y="1340.5">200</text><text x="768.3" y="1433">0</text>
</g>
<text x="1029.7" y="1540" font-size="26" text-anchor="middle">Binding energy (eV)</text>
<text transform="translate(716.9,1262.5) rotate(-90)" font-size="27" text-anchor="middle">Intensity (a.u.)</text>
<text x="801.3" y="1094" font-size="26">S-g-C<tspan font-size="17.5" dy="5.5">3</tspan><tspan dy="-5.5">N</tspan><tspan font-size="17.5" dy="5.5">4</tspan></text>
<text x="1256" y="1094" font-size="26" text-anchor="end">(f)</text>
<text x="1028.2" y="1410.7" font-size="26">2.61 eV</text>
</svg>
</body></html>
